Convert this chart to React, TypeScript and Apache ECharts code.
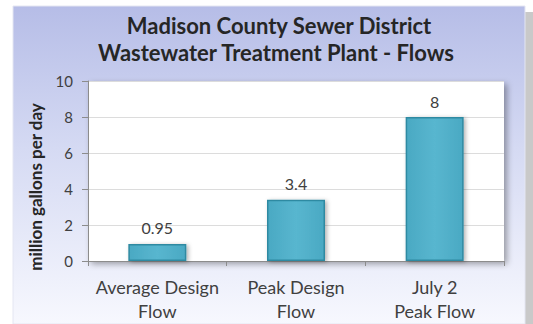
import React, { useEffect, useRef } from "react";
import * as echarts from "echarts";

const categories = ["Average Design\nFlow", "Peak Design\nFlow", "July 2\nPeak Flow"];
const values = [0.95, 3.4, 8];
const valueLabels = ["0.95", "3.4", "8"];
const titleLines = ["Madison County Sewer District", "Wastewater Treatment Plant - Flows"];
const yAxisName = "million gallons per day";

export default function App() {
  const ref = useRef<HTMLDivElement>(null);
  useEffect(() => {
    if (!ref.current) return;
    const chart = echarts.init(ref.current, undefined, { renderer: "svg" });
    const font = "Lato, 'Open Sans', sans-serif";
    chart.setOption({
      animation: false,
      backgroundColor: "#ffffff",
      graphic: [
        {
          type: "rect",
          z: -10,
          silent: true,
          shape: { x: 518, y: 12, width: 15, height: 312 },
          style: { fill: "#c9c9c9" },
        },
        {
          type: "rect",
          z: -9,
          silent: true,
          shape: { x: 13, y: 6, width: 512, height: 318 },
          style: {
            fill: new echarts.graphic.LinearGradient(0, 0, 0, 1, [
              { offset: 0, color: "#b6bde7" },
              { offset: 0.45, color: "#d5daf3" },
              { offset: 1, color: "#f7f8fe" },
            ]),
            stroke: "#e4e6f2",
            lineWidth: 1,
          },
        },
        {
          type: "text",
          x: 279,
          y: 25,
          style: {
            text: titleLines[0],
            font: `bold 22px ${font}`,
            fill: "#262626",
            textAlign: "center",
            textVerticalAlign: "middle",
          },
        },
        {
          type: "text",
          x: 276,
          y: 52,
          style: {
            text: titleLines[1],
            font: `bold 22px ${font}`,
            fill: "#262626",
            textAlign: "center",
            textVerticalAlign: "middle",
          },
        },
        {
          type: "text",
          x: 35,
          y: 187,
          rotation: Math.PI / 2,
          style: {
            text: yAxisName,
            font: `bold 17px ${font}`,
            fill: "#262626",
            textAlign: "center",
            textVerticalAlign: "middle",
          },
        },
      ],
      grid: {
        left: 88,
        right: 29,
        top: 81,
        bottom: 63,
        show: true,
        backgroundColor: "#ffffff",
        borderWidth: 0,
        shadowColor: "rgba(0,0,0,0.35)",
        shadowBlur: 6,
        shadowOffsetX: 3,
        shadowOffsetY: 3,
      },
      xAxis: {
        type: "category",
        data: categories,
        axisLine: { show: true, lineStyle: { color: "#8c8c8c", width: 1 } },
        axisTick: { show: true, alignWithLabel: false, length: 5, lineStyle: { color: "#8c8c8c" } },
        axisLabel: {
          interval: 0,
          hideOverlap: false,
          color: "#404040",
          fontSize: 18,
          fontFamily: font,
          lineHeight: 24,
          margin: 14,
        },
      },
      yAxis: {
        type: "value",
        min: 0,
        max: 10,
        interval: 2,
        axisLine: { show: true, lineStyle: { color: "#8c8c8c", width: 1 } },
        axisTick: { show: true, length: 6, lineStyle: { color: "#8c8c8c" } },
        axisLabel: { color: "#404040", fontSize: 15, fontFamily: font, margin: 15 },
        splitLine: { show: true, lineStyle: { color: "#dcdcdc", width: 1 } },
      },
      series: [
        {
          type: "bar",
          data: values,
          barWidth: 58,
          itemStyle: {
            color: new echarts.graphic.LinearGradient(0, 0, 1, 0, [
              { offset: 0, color: "#4aa9c3" },
              { offset: 0.5, color: "#58b6cf" },
              { offset: 1, color: "#4aa9c3" },
            ]),
            borderColor: "#2f8aa2",
            borderWidth: 1.5,
            shadowColor: "rgba(0,0,0,0.3)",
            shadowBlur: 4,
            shadowOffsetX: 2,
            shadowOffsetY: 1,
          },
          label: {
            show: true,
            position: "top",
            distance: 8,
            color: "#404040",
            fontSize: 16,
            fontFamily: font,
            formatter: (p: any) => valueLabels[p.dataIndex],
          },
        },
      ],
    });
    return () => chart.dispose();
  }, []);
  return (
    <div
      ref={ref}
      style={{ position: "fixed", left: 0, top: 0, width: 533, height: 324 }}
    />
  );
}
